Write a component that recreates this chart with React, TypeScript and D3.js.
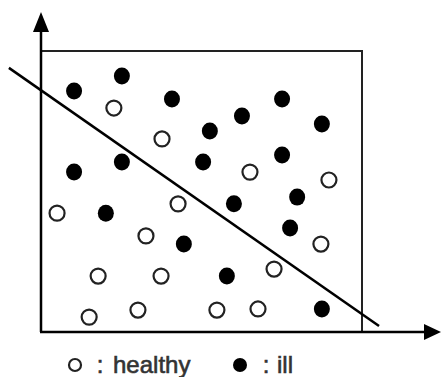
import React from "react";
import * as d3 from "d3";

const illX = [10.3, 25.2, 40.8, 52.6, 62.6, 75.1, 87.5, 50.5, 75.1, 25.2, 10.3, 79.8, 60.1, 20.2, 77.6, 44.5, 57.9, 87.5];
const illY = [85.8, 91.1, 82.9, 71.5, 76.9, 82.9, 74.0, 60.5, 63.0, 60.5, 56.9, 48.0, 45.6, 42.3, 37.0, 31.3, 19.9, 8.2];
const healthyX = [22.7, 37.7, 65.1, 89.7, 42.7, 5.0, 32.7, 87.2, 72.6, 17.8, 37.4, 15.0, 30.2, 54.8, 67.6];
const healthyY = [79.7, 68.7, 56.9, 54.1, 45.6, 42.3, 34.2, 31.3, 22.4, 19.9, 19.9, 5.3, 7.8, 7.8, 8.2];
const separatorX = [-10.0, 105.3];
const separatorY = [94.0, 2.1];
const legendLabels = ["healthy", "ill"];

export default function App() {
  const W = 442, H = 377;
  const x = d3.scaleLinear().domain([0, 100]).range([41, 362]);
  const y = d3.scaleLinear().domain([0, 100]).range([332, 51]);
  const line = d3.line<number>().x((_, i) => x(separatorX[i])).y((_, i) => y(separatorY[i]));
  const x0 = x(0), x1 = x(100), y0 = y(0), y1 = y(100);
  const font = "'Liberation Sans', Arial, sans-serif";
  const textStyle = { fontFamily: font, fontSize: 24, fill: "#333", stroke: "#333", strokeWidth: 0.6 };
  return (
    <svg width={W} height={H} style={{ position: "absolute", left: 0, top: 0, background: "#fff" }}>
      <path d={`M${x0},${y1}H${x1}V${y0}`} fill="none" stroke="#222" strokeWidth={2} />
      <line x1={x0} y1={y0} x2={x0} y2={28} stroke="#000" strokeWidth={2.5} />
      <path d={`M${x0},12L${x0 - 8},32L${x0 + 8},32Z`} fill="#000" />
      <line x1={x0 - 1} y1={y0} x2={428} y2={y0} stroke="#000" strokeWidth={2.5} />
      <path d={`M441,${y0}L424,${y0 - 8}L424,${y0 + 8}Z`} fill="#000" />
      <path d={line(separatorX) || ""} fill="none" stroke="#000" strokeWidth={2.5} />
      {illX.map((v, i) => (
        <ellipse key={"i" + i} cx={x(v)} cy={y(illY[i])} rx={8} ry={8.5} fill="#000" />
      ))}
      {healthyX.map((v, i) => (
        <ellipse key={"h" + i} cx={x(v)} cy={y(healthyY[i])} rx={7.5} ry={7.5} fill="#fff" stroke="#222" strokeWidth={2.2} />
      ))}
      <circle cx={75} cy={365} r={6} fill="#fff" stroke="#222" strokeWidth={2.2} />
      <text x={100} y={373} textAnchor="middle" style={textStyle}>:</text>
      <text x={113} y={373} style={textStyle}>{legendLabels[0]}</text>
      <circle cx={240} cy={365} r={7} fill="#000" />
      <text x={266} y={373} textAnchor="middle" style={textStyle}>:</text>
      <text x={277} y={373} style={textStyle}>{legendLabels[1]}</text>
    </svg>
  );
}
